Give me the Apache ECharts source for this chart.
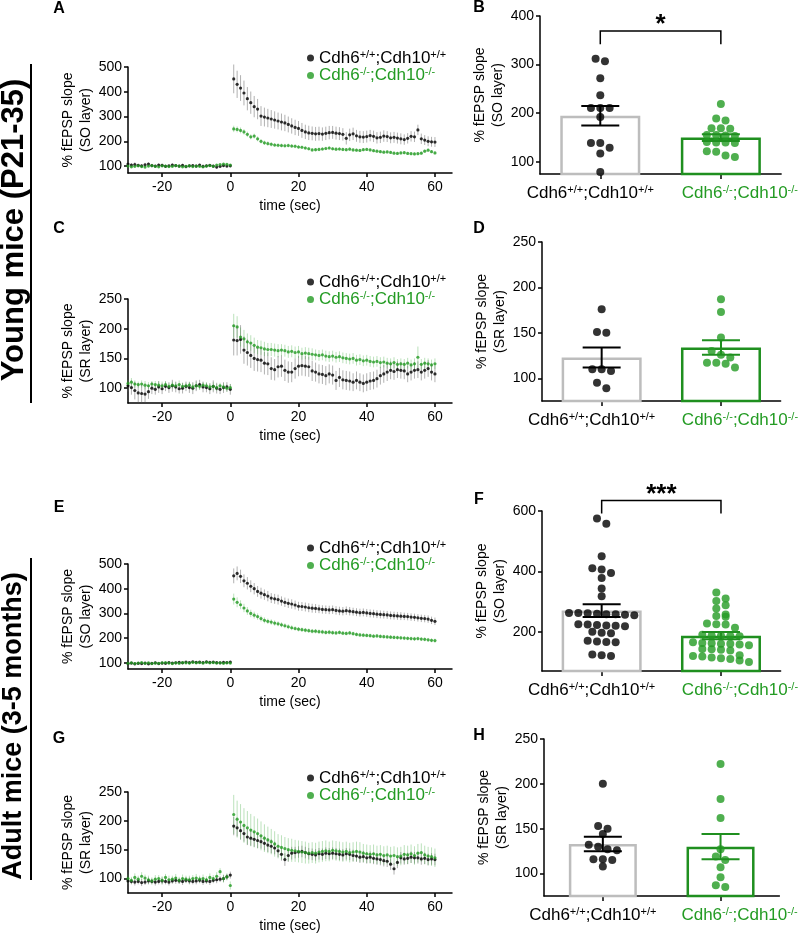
<!DOCTYPE html>
<html><head><meta charset="utf-8">
<script src="https://cdn.jsdelivr.net/npm/echarts@6/dist/echarts.min.js"></script>
<style>html,body{margin:0;padding:0;background:#fff}#c{width:800px;height:936px}</style>
</head><body><div id="c"></div>
<script>
// ---------------- DATA ----------------
const groupNames = ['Cdh6+/+;Cdh10+/+', 'Cdh6-/-;Cdh10-/-'];
const panelLetters = ['A','B','C','D','E','F','G','H'];
const sideLabels = ['Young mice (P21-35)', 'Adult mice (3-5 months)'];
const timeTicks = [-20, 0, 20, 40, 60];
const timeName = 'time (sec)';
const ySO = '% fEPSP slope\n(SO layer)';
const ySR = '% fEPSP slope\n(SR layer)';

// time series: baseline t=-30..0 (31 values), post t=1..60 (60 values)
const wtA_base = [108,104,106,103,101,105,108,102,100,104, 103,99,101,104,102,100,103,98,101,102, 100,104,99,101,103,100,96,99,102,100, 101];
const wtA_post = [452,430,415,395,372,356,340,330,302,298, 294,290,286,282,278,274,268,262,256,252, 244,238,234,232,230,231,229,232,235,236, 233,231,228,212,226,230,222,218,217,219, 223,220,214,216,221,219,214,216,213,210, 207,212,220,218,246,210,205,200,198,197];
const wtA_errBase = [8,7,9,6,7,8,6,7,5,6, 7,6,5,7,6,5,6,7,5,6, 6,5,7,6,5,6,7,5,6,5, 6];
const wtA_errPost = [58,55,52,50,47,45,43,41,40,38, 37,36,35,34,34,33,32,31,31,30, 30,29,29,28,28,28,27,27,27,26, 26,26,25,25,25,25,24,24,24,24, 23,23,23,23,23,22,22,22,22,22, 21,21,21,21,21,21,20,20,20,20];
const koA_base = [100,97,99,101,98,96,100,102,99,97, 101,100,98,99,102,100,97,99,101,98, 100,99,97,100,102,99,104,106,108,107, 104];
const koA_post = [250,248,244,238,228,218,221,210,200,194, 191,188,185,184,183,182,183,181,180,177, 176,173,170,165,166,167,169,171,173,170, 168,169,167,166,168,165,164,163,166,167, 165,162,160,158,156,157,155,152,151,153, 154,151,150,149,150,152,160,164,158,153];
const koA_errBase = [4,5,4,3,4,5,4,3,4,4, 5,4,3,4,4,5,4,3,4,4, 5,4,3,4,4,5,4,4,5,4, 4];
const koA_errPost = [13,12,12,11,11,10,10,10,9,9, 9,9,8,8,8,8,8,8,8,8, 7,7,7,7,7,7,7,7,7,7, 7,7,7,7,7,7,6,6,6,6, 6,6,6,6,6,6,6,6,6,6, 6,6,6,6,6,6,6,6,6,6];

const wtC_base = [104,101,96,92,91,90,94,100,98,102, 99,103,101,104,102,99,100,103,101,100, 104,106,102,101,99,103,100,98,101,102, 98];
const wtC_post = [181,180,182,164,160,155,150,148,147,142, 141,133,131,136,137,130,127,127,133,137, 138,137,136,129,127,124,123,121,124,122, 113,118,114,113,112,110,113,110,108,110, 112,113,116,121,124,127,130,128,131,130, 129,124,127,130,131,127,130,133,127,124];
const wtC_errBase = [10,12,15,16,15,14,12,10,9,10, 9,8,9,10,9,8,9,8,9,10, 9,8,9,8,9,10,9,8,9,8, 9];
const wtC_errPost = [26,25,24,23,22,21,21,20,20,19, 19,19,18,18,18,18,18,17,17,17, 17,17,17,17,16,16,16,16,16,16, 16,16,16,16,16,15,15,15,15,15, 15,15,15,15,15,15,15,14,14,14, 14,14,14,14,14,14,14,14,14,14];
const koC_base = [108,110,107,106,107,105,104,107,106,105, 104,106,103,105,104,106,103,104,105,102, 104,103,105,104,102,103,101,104,102,100, 101];
const koC_post = [205,203,186,183,178,176,172,169,168,166, 165,165,164,163,164,163,161,162,160,161, 158,159,158,157,156,155,156,154,153,154, 152,153,151,150,149,150,147,148,146,147, 145,144,145,143,144,142,141,143,140,141, 140,142,139,141,152,140,142,141,139,141];
const koC_errBase = [6,7,6,5,6,7,6,5,6,6, 7,6,5,6,6,7,6,5,6,6, 7,6,5,6,6,7,6,5,6,6, 6];
const koC_errPost = [20,18,16,15,14,13,13,12,12,12, 11,11,11,11,10,10,10,10,10,10, 10,10,10,10,9,9,9,9,9,9, 9,9,9,9,9,9,9,9,9,9, 9,9,9,9,9,9,9,9,9,9, 9,9,9,9,18,9,9,9,9,9];

const wtE_base = [97,99,96,98,97,99,96,98,100,97, 99,98,101,99,100,102,100,103,101,104, 102,103,101,104,102,103,101,100,102,101, 103];
const wtE_post = [452,462,450,432,422,410,400,389,382,376, 370,362,359,356,350,345,341,338,334,329, 328,326,323,321,320,318,316,315,314,315, 312,310,309,311,309,307,305,303,304,302, 300,299,297,296,295,294,292,291,290,289, 288,287,285,284,282,280,279,277,272,268];
const wtE_errBase = [5,4,5,4,5,4,5,4,5,4, 5,4,5,4,5,4,5,4,5,4, 5,4,5,4,5,4,5,4,5,4, 5];
const wtE_errPost = [30,28,27,26,25,24,23,22,22,21, 21,20,20,20,19,19,19,19,18,18, 18,18,18,18,18,17,17,17,17,17, 17,17,17,17,17,16,16,16,16,16, 16,16,16,16,16,16,16,16,16,16, 15,15,15,15,15,15,15,15,15,15];
const koE_base = [98,100,97,99,101,98,100,97,99,98, 100,101,99,97,100,98,101,100,99,102, 100,101,99,102,100,101,99,100,98,100, 99];
const koE_post = [358,345,335,322,310,300,293,287,279,272, 268,265,261,258,254,250,246,242,239,236, 234,232,230,228,228,226,225,223,224,222, 221,223,220,219,221,218,215,213,212,211, 210,208,209,207,206,205,204,203,202,201, 200,199,198,197,198,196,195,193,191,190];
const koE_errBase = [4,3,4,3,4,3,4,3,4,3, 4,3,4,3,4,3,4,3,4,3, 4,3,4,3,4,3,4,3,4,3, 4];
const koE_errPost = [22,20,18,17,16,15,14,13,12,12, 11,11,11,10,10,10,10,10,9,9, 9,9,9,9,9,9,9,9,9,9, 8,8,8,8,8,8,8,8,8,8, 8,8,8,8,8,8,8,8,8,8, 8,8,8,8,8,8,8,8,8,8];

const wtG_base = [96,95,94,95,93,94,96,95,94,95, 96,95,94,96,97,96,95,97,96,95, 96,97,95,96,95,97,98,99,100,103, 106];
const wtG_post = [191,188,183,178,172,170,168,166,164,161, 158,156,153,148,142,133,140,144,145,146, 147,145,143,142,141,143,142,144,143,144, 143,142,141,143,142,140,139,137,138,136, 137,135,134,133,131,130,125,117,128,136, 134,135,137,136,136,134,135,133,134,133];
const wtG_errBase = [6,5,6,5,6,5,6,5,6,5, 6,5,6,5,6,5,6,5,6,5, 6,5,6,5,6,5,6,5,6,5, 6];
const wtG_errPost = [16,15,15,14,14,13,13,13,12,12, 12,12,11,11,11,11,11,11,10,10, 10,10,10,10,10,10,10,10,10,10, 10,10,10,10,10,10,10,10,10,10, 10,10,10,10,10,10,10,10,10,10, 10,10,10,10,10,10,10,10,10,10];
const koG_base = [100,97,102,99,104,101,98,96,99,100, 97,102,98,99,101,97,100,99,98,100, 101,99,100,98,102,100,104,112,100,103, 88];
const koG_post = [211,203,198,192,188,184,181,178,174,170, 167,164,160,156,154,152,150,149,148,147, 146,145,144,145,144,146,147,148,147,149, 148,147,146,147,145,146,147,146,144,143, 142,143,141,142,140,141,139,140,138,139, 142,141,143,140,144,145,141,139,138,136];
const koG_errBase = [7,6,7,6,7,6,7,6,7,6, 7,6,7,6,7,6,7,6,7,6, 7,6,7,6,7,6,7,6,7,6, 7];
const koG_errPost = [34,32,31,30,29,28,27,26,25,24, 23,22,22,21,21,20,20,20,19,19, 19,19,18,18,18,18,18,18,17,17, 17,17,17,17,17,17,17,17,16,16, 16,16,16,16,16,16,16,16,16,16, 16,16,16,16,16,16,16,16,16,16];

// bar panels: individual points, means, SEM
const ptsB_wt = [312,307,272,237,211,211,211,192,139,139,129,117,79];
const ptsB_ko = [219,189,185,169,169,168,155,154,155,153,140,141,139,140,122,121,113,110];
const meanB = [195, 150];
const semB = [20, 7];
const ptsD_wt = [176,150,151,110,108,110,95,89];
const ptsD_ko = [187,173,145,130,126,123,117,112,116,117];
const meanD = [123, 134];
const semD = [11, 8];
const ptsF_wt = [575,558,450,410,406,395,378,343,318,262,260,258,256,255,258,261,262,225,222,220,218,221,224,200,197,195,170,168,165,166,125,122,120];
const ptsF_ko = [330,310,302,288,277,257,252,250,227,225,224,213,190,186,185,187,188,165,162,160,158,155,160,163,142,140,138,143,120,115,110,100,105,112,118,122];
const meanF = [270, 187];
const semF = [21, 12];
const ptsH_wt = [200,153,150,144,132,130,127,126,116,116,115,108];
const ptsH_ko = [222,183,162,127,119,115,107,96,85,87];
const meanH = [133, 130];
const semH = [8, 14];
const sigLabels = ['*', '***'];

// ---------------- STYLE / LAYOUT ----------------
const GREEN = '#239b23';
const FONT = '"Liberation Sans", Arial, Helvetica, sans-serif';
const times = [];
for (let t = -30; t <= 60; t++) times.push(t);

const timePanels = [
  {grid:{left:128, top:67, width:324, height:106}, wt:wtA_base.concat(wtA_post), wtErr:wtA_errBase.concat(wtA_errPost), ko:koA_base.concat(koA_post), koErr:koA_errBase.concat(koA_errPost), ymin:72, ymax:500, ticks:[100,200,300,400,500], yName:ySO, legendTop:49},
  {grid:{left:128, top:299, width:324, height:104}, wt:wtC_base.concat(wtC_post), wtErr:wtC_errBase.concat(wtC_errPost), ko:koC_base.concat(koC_post), koErr:koC_errBase.concat(koC_errPost), ymin:75, ymax:250, ticks:[100,150,200,250], yName:ySR, legendTop:273},
  {grid:{left:128, top:564, width:324, height:105}, wt:wtE_base.concat(wtE_post), wtErr:wtE_errBase.concat(wtE_errPost), ko:koE_base.concat(koE_post), koErr:koE_errBase.concat(koE_errPost), ymin:75, ymax:500, ticks:[100,200,300,400,500], yName:ySO, legendTop:539},
  {grid:{left:128, top:792, width:324, height:105}, wt:wtG_base.concat(wtG_post), wtErr:wtG_errBase.concat(wtG_errPost), ko:koG_base.concat(koG_post), koErr:koG_errBase.concat(koG_errPost), ymin:75, ymax:250, ticks:[100,150,200,250], yName:ySR, legendTop:769}
];
const barPanels = [
  {grid:{left:540, top:16, width:245, height:158}, wt:ptsB_wt, ko:ptsB_ko, mean:meanB, sem:semB, ymin:75, ymax:400, ticks:[100,200,300,400], yName:ySO, barWidth:80, sig:{text:sigLabels[0], y:369, leg:342}},
  {grid:{left:542, top:242, width:243, height:159}, wt:ptsD_wt, ko:ptsD_ko, mean:meanD, sem:semD, ymin:75, ymax:250, ticks:[100,150,200,250], yName:ySR, barWidth:80},
  {grid:{left:542, top:511, width:243, height:160}, wt:ptsF_wt, ko:ptsF_ko, mean:meanF, sem:semF, ymin:70, ymax:600, ticks:[200,400,600], yName:ySO, barWidth:80, sig:{text:sigLabels[1], y:635, leg:592}},
  {grid:{left:544, top:739, width:238, height:157}, wt:ptsH_wt, ko:ptsH_ko, mean:meanH, sem:semH, ymin:75, ymax:250, ticks:[100,150,200,250], yName:ySR, barWidth:68}
];

const rich = {
  n0:{fontSize:17, lineHeight:18, color:'#000', fontFamily:FONT},
  s0:{fontSize:11, lineHeight:11, color:'#000', fontFamily:FONT, verticalAlign:'top'},
  n1:{fontSize:17, lineHeight:18, color:GREEN, fontFamily:FONT},
  s1:{fontSize:11, lineHeight:11, color:GREEN, fontFamily:FONT, verticalAlign:'top'},
  pl:{width:38, fontSize:10},
  pr:{width:20, fontSize:10}
};
function richName(name) {
  const k = groupNames.indexOf(name) === 1 ? '1' : '0';
  return name.split(/([+\-]\/[+\-])/).filter(s => s !== '').map(s =>
    /^[+\-]\/[+\-]$/.test(s) ? '{s' + k + '|' + s + '}' : '{n' + k + '|' + s + '}').join('');
}

const axisLineS = {show:true, onZero:false, lineStyle:{color:'#000', width:1.5}};
const tickS = {show:true, length:4, lineStyle:{color:'#000', width:1.5}};
const labelS = {color:'#000', fontFamily:FONT};
const nameS = {color:'#000', fontFamily:FONT, fontSize:14, lineHeight:18};

const grids = [], xAxes = [], yAxes = [], series = [], legends = [];

function errLine(color) {
  return function (params, api) {
    const x = api.value(0), y = api.value(1), e = api.value(2);
    const p1 = api.coord([x, y - e]), p2 = api.coord([x, y + e]);
    return {type:'line', shape:{x1:p1[0], y1:p1[1], x2:p2[0], y2:p2[1]}, style:{stroke:color, lineWidth:1}};
  };
}

timePanels.forEach(p => {
  const g = grids.length;
  grids.push(Object.assign({containLabel:false}, p.grid));
  const xi = xAxes.length, yi = yAxes.length;
  xAxes.push({type:'value', gridIndex:g, min:-30, max:65, axisLine:axisLineS,
    axisTick:Object.assign({}, tickS, {customValues:timeTicks}),
    axisLabel:Object.assign({}, labelS, {customValues:timeTicks, fontSize:14, margin:7}),
    splitLine:{show:false}, name:timeName, nameLocation:'middle', nameGap:24, nameTextStyle:nameS});
  yAxes.push({type:'value', gridIndex:g, min:p.ymin, max:p.ymax, axisLine:axisLineS,
    axisTick:Object.assign({}, tickS, {customValues:p.ticks}),
    axisLabel:Object.assign({}, labelS, {customValues:p.ticks, fontSize:14, margin:6}),
    splitLine:{show:false}, name:p.yName, nameLocation:'middle', nameRotate:90, nameGap:25, nameTextStyle:nameS});
  series.push({type:'custom', xAxisIndex:xi, yAxisIndex:yi, silent:true, z:1, encode:{x:0, y:1},
    renderItem:errLine('rgba(100,100,100,0.5)'), data:times.map((t, i) => [t, p.wt[i], p.wtErr[i]])});
  series.push({type:'custom', xAxisIndex:xi, yAxisIndex:yi, silent:true, z:1, encode:{x:0, y:1},
    renderItem:errLine('rgba(60,170,60,0.35)'), data:times.map((t, i) => [t, p.ko[i], p.koErr[i]])});
  series.push({type:'scatter', name:groupNames[0], xAxisIndex:xi, yAxisIndex:yi, z:3, symbolSize:3.2,
    itemStyle:{color:'#000'}, data:times.map((t, i) => [t, p.wt[i]])});
  series.push({type:'scatter', name:groupNames[1], xAxisIndex:xi, yAxisIndex:yi, z:3, symbolSize:3.2,
    itemStyle:{color:GREEN}, data:times.map((t, i) => [t, p.ko[i]])});
  legends.push({orient:'vertical', left:307, top:p.legendTop, itemGap:0, itemWidth:7, itemHeight:7, icon:'circle',
    padding:0, selectedMode:false, data:groupNames, formatter:richName, textStyle:{fontSize:17, rich:rich}});
});

function swarm(vals, pxPerUnit, pxPerX, spacing, tol) {
  const order = vals.map((v, i) => i).sort((a, b) => vals[b] - vals[a]);
  const offs = new Array(vals.length).fill(0);
  let row = [];
  const flush = () => {
    const n = row.length;
    row.forEach((k, j) => { offs[k] = (j - (n - 1) / 2) * spacing / pxPerX; });
    row = [];
  };
  order.forEach(k => {
    if (row.length && (vals[row[0]] - vals[k]) * pxPerUnit > tol) flush();
    row.push(k);
  });
  flush();
  return offs;
}

barPanels.forEach(p => {
  const g = grids.length;
  grids.push(Object.assign({containLabel:false}, p.grid));
  const xc = xAxes.length;
  xAxes.push({type:'category', gridIndex:g, data:groupNames, axisLine:axisLineS,
    axisTick:Object.assign({}, tickS, {alignWithLabel:true, length:5}),
    axisLabel:{interval:0, margin:10, fontFamily:FONT,
      formatter:(v, i) => i === 0 ? richName(v) + '{pr| }' : '{pl| }' + richName(v), rich:rich},
    splitLine:{show:false}});
  const xv = xAxes.length;
  xAxes.push({type:'value', gridIndex:g, min:-0.5, max:1.5, show:false});
  const yi = yAxes.length;
  yAxes.push({type:'value', gridIndex:g, min:p.ymin, max:p.ymax, axisLine:axisLineS,
    axisTick:Object.assign({}, tickS, {customValues:p.ticks}),
    axisLabel:Object.assign({}, labelS, {customValues:p.ticks, fontSize:14, margin:6}),
    splitLine:{show:false}, name:p.yName, nameLocation:'middle', nameRotate:90, nameGap:33, nameTextStyle:nameS});
  series.push({type:'bar', xAxisIndex:xc, yAxisIndex:yi, silent:true, z:2, barWidth:p.barWidth,
    data:p.mean.map((m, i) => ({value:m, itemStyle:{color:'#fff', borderColor:i ? '#1f8f1f' : '#bdbdbd', borderWidth:2.5}}))});
  const pxU = p.grid.height / (p.ymax - p.ymin), pxX = p.grid.width / 2;
  [p.wt, p.ko].forEach((vals, gi) => {
    const offs = swarm(vals, pxU, pxX, 9.5, 6.5);
    series.push({type:'scatter', xAxisIndex:xv, yAxisIndex:yi, z:3, symbolSize:8, silent:true,
      itemStyle:{color:gi ? GREEN : '#000'}, data:vals.map((v, i) => [gi + offs[i], v])});
  });
  series.push({type:'custom', xAxisIndex:xv, yAxisIndex:yi, silent:true, z:4, encode:{x:0, y:1},
    data:p.mean.map((m, i) => [i, m, p.sem[i]]),
    renderItem:(params, api) => {
      const x = api.value(0), m = api.value(1), s = api.value(2);
      const a = api.coord([x, m + s]), b = api.coord([x, m - s]);
      const c = params.dataIndex ? '#1f8f1f' : '#000', hw = 19;
      const st = {stroke:c, lineWidth:2};
      return {type:'group', children:[
        {type:'line', shape:{x1:a[0], y1:a[1], x2:b[0], y2:b[1]}, style:st},
        {type:'line', shape:{x1:a[0]-hw, y1:a[1], x2:a[0]+hw, y2:a[1]}, style:st},
        {type:'line', shape:{x1:b[0]-hw, y1:b[1], x2:b[0]+hw, y2:b[1]}, style:st}]};
    }});
  if (p.sig) {
    const sig = p.sig;
    series.push({type:'custom', xAxisIndex:xv, yAxisIndex:yi, silent:true, z:4, clip:false,
      data:[[0, sig.y]], encode:{x:0, y:1},
      renderItem:(params, api) => {
        const a = api.coord([0, sig.y]), b = api.coord([1, sig.y]);
        const al = api.coord([0, sig.leg]), bl = api.coord([1, sig.leg]);
        return {type:'group', children:[
          {type:'polyline', shape:{points:[al, a, b, bl]}, style:{stroke:'#000', lineWidth:1.5, fill:null}},
          {type:'text', style:{text:sig.text, x:(a[0] + b[0]) / 2, y:a[1] - 6, align:'center', verticalAlign:'middle',
            font:'bold 26px ' + FONT, fill:'#000'}}]};
      }});
  }
});

const letterPos = [[59,9],[479,8],[59,229],[479,229],[59,508],[479,500],[59,739],[479,736]];
const graphics = panelLetters.map((L, i) => ({type:'text', x:letterPos[i][0], y:letterPos[i][1],
  style:{text:L, font:'bold 16px ' + FONT, fill:'#000', align:'center', verticalAlign:'middle'}}));
graphics.push({type:'text', x:14, y:230, rotation:Math.PI / 2,
  style:{text:sideLabels[0], font:'bold 31px ' + FONT, fill:'#000', align:'center', verticalAlign:'middle'}});
graphics.push({type:'line', shape:{x1:31, y1:64, x2:31, y2:403}, style:{stroke:'#000', lineWidth:2}});
graphics.push({type:'text', x:14, y:726, rotation:Math.PI / 2,
  style:{text:sideLabels[1], font:'bold 27px ' + FONT, fill:'#000', align:'center', verticalAlign:'middle'}});
graphics.push({type:'line', shape:{x1:31, y1:558, x2:31, y2:880}, style:{stroke:'#000', lineWidth:2}});

const chart = echarts.init(document.getElementById('c'), null, {renderer:'canvas'});
chart.setOption({
  backgroundColor:'#fff', animation:false,
  textStyle:{fontFamily:FONT},
  grid:grids, xAxis:xAxes, yAxis:yAxes, series:series, legend:legends, graphic:graphics
});
</script></body></html>
